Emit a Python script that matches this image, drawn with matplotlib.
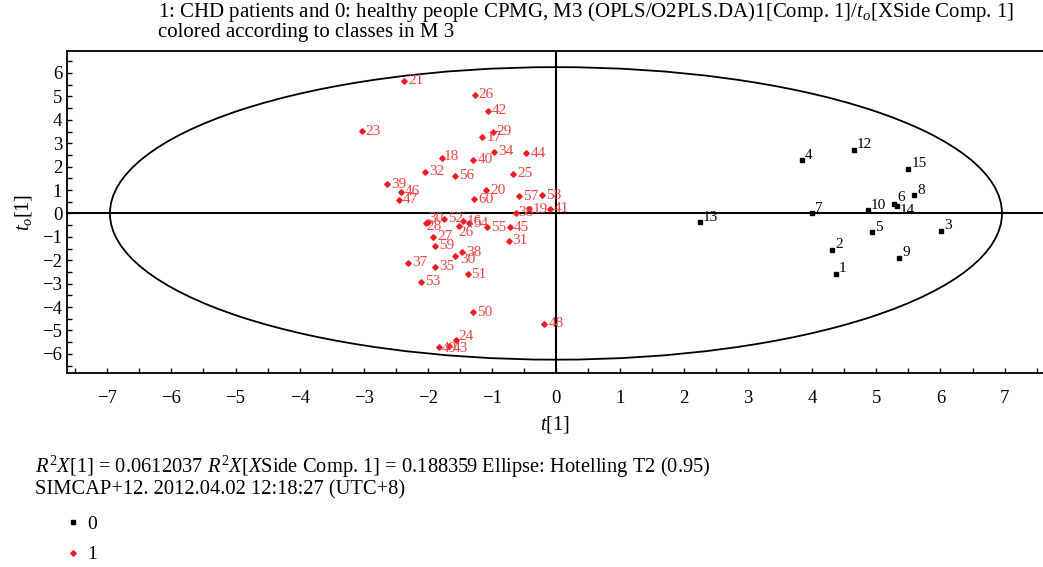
import numpy as np
import matplotlib
matplotlib.use("Agg")
import matplotlib.pyplot as plt
from matplotlib.patches import Ellipse
from matplotlib.lines import Line2D
from matplotlib.ticker import MultipleLocator

plt.rcParams['font.family'] = ['Liberation Serif', 'DejaVu Serif']
plt.rcParams['mathtext.fontset'] = 'custom'
plt.rcParams['mathtext.rm'] = 'Liberation Serif'
plt.rcParams['mathtext.it'] = 'Liberation Serif:italic'

# class 0: healthy people (black squares)
ids_0 = ['1', '2', '3', '4', '5', '6', '7', '8', '9', '10', '12', '13', '14', '15']
t1_0 = [4.37, 4.31, 6.01, 3.84, 4.93, 5.28, 4.00, 5.59, 5.36, 4.87, 4.65, 2.25, 5.32, 5.50]
to_0 = [-2.58, -1.56, -0.75, 2.28, -0.80, 0.39, 0.01, 0.78, -1.90, 0.14, 2.71, -0.38, 0.31, 1.90]

# class 1: CHD patients (red diamonds)
ids_1 = ['21', '26', '42', '23', '29', '17', '34', '44', '18', '40', '32', '56', '25',
         '39', '46', '20', '57', '58', '47', '60', '38', '19', '41', '30', '28', '52',
         '26', '16', '54', '55', '45', '27', '31', '59', '38', '30', '37', '35', '51',
         '53', '50', '48', '24', '49', '43']
t1_1 = [-2.37, -1.27, -1.06, -3.03, -0.99, -1.15, -0.96, -0.46, -1.78, -1.29, -2.04, -1.58, -0.67,
        -2.63, -2.42, -1.09, -0.57, -0.22, -2.45, -1.28, -0.62, -0.42, -0.10, -1.99, -2.03, -1.74,
        -1.52, -1.45, -1.35, -1.08, -0.72, -1.92, -0.74, -1.88, -1.47, -1.57, -2.31, -1.88, -1.38,
        -2.10, -1.29, -0.18, -1.56, -1.82, -1.67]
to_1 = [5.66, 5.07, 4.39, 3.51, 3.48, 3.25, 2.64, 2.58, 2.37, 2.30, 1.77, 1.61, 1.69,
        1.25, 0.93, 0.99, 0.73, 0.78, 0.58, 0.61, 0.02, 0.18, 0.20, -0.35, -0.42, -0.23,
        -0.55, -0.33, -0.42, -0.59, -0.59, -0.99, -1.17, -1.39, -1.67, -1.81, -2.10, -2.27, -2.60,
        -2.91, -4.22, -4.72, -5.39, -5.70, -5.66]

# Hotelling T2 (0.95) ellipse semi-axes
ell_a = 6.96
ell_b = 6.25

red = '#ee1c24'
red_txt = '#f04545'
px = 72 / 100  # pixel -> points

fig = plt.figure(figsize=(10.43, 5.67), dpi=100)
ax = fig.add_axes([67 / 1043, 1 - 373 / 567, 1 - 67 / 1043, (373 - 51) / 567])
ax.set_xlim(-7.63, 7.60)
ax.set_ylim(-6.82, 6.94)

ax.axhline(0, color='black', lw=1.5, zorder=1)
ax.axvline(0, color='black', lw=1.5, zorder=1)
ax.add_patch(Ellipse((0, 0), 2 * ell_a, 2 * ell_b, fill=False, ec='black', lw=1.3, zorder=1))

ax.plot(t1_0, to_0, 's', color='black', ms=3.4, ls='none', zorder=3)
ax.plot(t1_1, to_1, 'D', color=red, ms=2.8, ls='none', zorder=3)

# label offsets in pixels (index-specific tweaks where labels sit elsewhere)
off_0 = {'14': (3, -4), '6': (3, 7)}
off_1 = {23: (0, 3), 24: (1, -3), 26: (0, -6), 35: (5, -4), 42: (2, 3),
         43: (2, -2), 44: (4, -3), 8: (2, 1), 20: (2, 0)}

for lab, x, y in zip(ids_0, t1_0, to_0):
    dx, dy = off_0.get(lab, (3, 5))
    ax.annotate(lab, (x, y), xytext=(dx * px, dy * px), textcoords='offset points',
                ha='left', va='center', fontsize=11, color='black')

for i, (lab, x, y) in enumerate(zip(ids_1, t1_1, to_1)):
    dx, dy = off_1.get(i, (4, 0))
    ax.annotate(lab, (x, y), xytext=(dx * px, dy * px), textcoords='offset points',
                ha='left', va='center', fontsize=11, color=red_txt)

ax.xaxis.set_major_locator(MultipleLocator(1))
ax.xaxis.set_minor_locator(MultipleLocator(0.5))
ax.yaxis.set_major_locator(MultipleLocator(1))
ax.yaxis.set_minor_locator(MultipleLocator(0.5))
ax.tick_params(which='both', direction='in', length=3.5, width=1, labelsize=13.5,
               top=False, right=False)
ax.tick_params(axis='x', pad=12)
ax.spines['right'].set_visible(False)
for s in ['left', 'bottom', 'top']:
    ax.spines[s].set_linewidth(1.3)

ax.set_xlabel(r'$t$[1]', fontsize=14.5, labelpad=5)
ax.set_ylabel(r'$t_o$[1]', fontsize=14.5, labelpad=6)

fig.text(158 / 1043, 1 - 12.5 / 567,
         r'1: CHD patients and 0: healthy people CPMG, M3 (OPLS/O2PLS.DA)1[Comp. 1]/$t_o$[XSide Comp. 1]',
         fontsize=15, va='center', ha='left')
fig.text(158 / 1043, 1 - 32.5 / 567, 'colored according to classes in M 3',
         fontsize=15, va='center', ha='left')

fig.text(35 / 1043, 1 - 467 / 567,
         r'$R^2X$[1] = 0.0612037 $R^2X$[$X$Side Comp. 1] = 0.188359 Ellipse: Hotelling T2 (0.95)',
         fontsize=14.8, va='center', ha='left')
fig.text(35 / 1043, 1 - 490 / 567, 'SIMCAP+12. 2012.04.02 12:18:27 (UTC+8)',
         fontsize=14.8, va='center', ha='left')

handles = [Line2D([], [], marker='s', color='black', ms=3.4, ls='none'),
           Line2D([], [], marker='D', color=red, ms=2.8, ls='none')]
fig.legend(handles, ['0', '1'], loc='upper left', bbox_to_anchor=(46 / 1043, 1 - 498 / 567),
           frameon=False, fontsize=14, handlelength=1.0, labelspacing=0.65, handletextpad=0.2)

fig.savefig('out.png', dpi=100)
